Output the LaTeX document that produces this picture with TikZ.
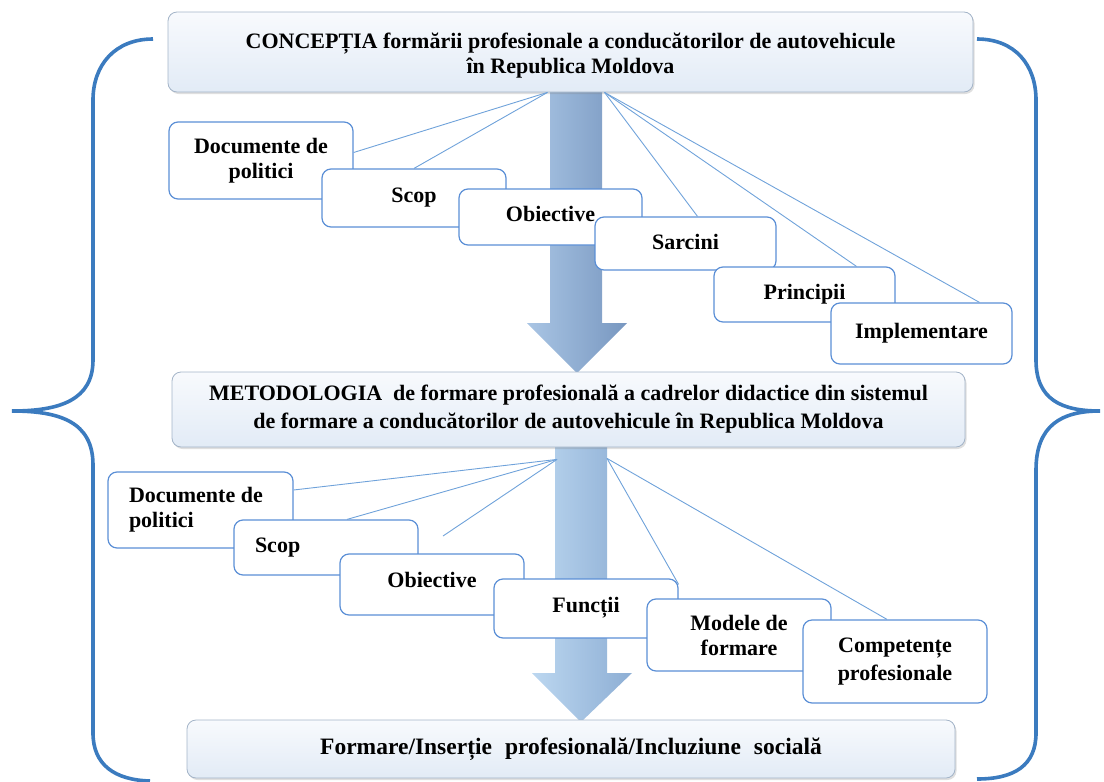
\documentclass[tikz,border=0pt]{standalone}
\usepackage{fontspec}
\setmainfont{Liberation Serif}
\usetikzlibrary{shadows,calc}
\definecolor{bracec}{HTML}{3B7BBF}
\definecolor{boxline}{HTML}{5B8FD6}
\definecolor{connc}{HTML}{6FA2DA}
\definecolor{hdrline}{HTML}{A3B4C8}
\definecolor{hdrtop}{HTML}{F8FAFD}
\definecolor{hdrbot}{HTML}{E2EBF6}
\definecolor{arAl}{HTML}{A9C5E4}
\definecolor{arAm}{HTML}{93B4DA}
\definecolor{arAr}{HTML}{7897C0}
\definecolor{arBl}{HTML}{BCD7F0}
\definecolor{arBm}{HTML}{A5C6E9}
\definecolor{arBr}{HTML}{8DAED4}
\begin{document}
\begin{tikzpicture}[x=1pt,y=-1pt,
  font=\fontsize{22}{25}\selectfont\bfseries,
  hdr/.style={rounded corners=9pt, draw=hdrline, line width=0.8pt,
    top color=hdrtop, bottom color=hdrbot,
    drop shadow={opacity=0.25,shadow xshift=1.5pt,shadow yshift=-2pt},
    inner sep=0pt, align=center},
  sbox/.style={rounded corners=9pt, draw=boxline, line width=1.2pt, fill=white,
    inner sep=0pt, align=center},
  connline/.style={draw=connc, line width=0.9pt},
  bracepath/.style={draw=bracec, line width=3.6pt},
]
\useasboundingbox (0,0) rectangle (1104,782);

% braces
\draw[bracepath] (153,39) .. controls (115,39) and (93,65) .. (93,100)
  -- (93,360) .. controls (93,400) and (60,411) .. (12,411)
  .. controls (60,411) and (93,422) .. (93,465)
  -- (93,733) .. controls (93,765) and (115,780) .. (150,781);
\draw[bracepath] (977,39) .. controls (1015,39) and (1036,65) .. (1036,100)
  -- (1036,360) .. controls (1036,400) and (1062,411) .. (1100,411)
  .. controls (1062,411) and (1036,425) .. (1036,470)
  -- (1036,733) .. controls (1036,765) and (1015,779) .. (977,779);

% big arrows
\shade[left color=arAl, middle color=arAm, right color=arAr]
  (550,90) -- (602,90) -- (602,323) -- (627,323) -- (577,373) -- (527,323) -- (550,323) -- cycle;
\shade[left color=arBl, middle color=arBm, right color=arBr]
  (555,447) -- (607,447) -- (607,673) -- (632,673) -- (581,722) -- (532,673) -- (555,673) -- cycle;

% header boxes
\node[hdr, minimum width=805pt, minimum height=80pt] (concept) at (570.5,52)
  {\rule{0pt}{22pt}CONCEPȚIA formării profesionale a conducătorilor de autovehicule\\în Republica Moldova};
\node[hdr, minimum width=793pt, minimum height=75pt, font=\fontsize{22}{28}\selectfont\bfseries] (meth) at (568.5,409.5)
  {METODOLOGIA\ \ de formare profesională a cadrelor didactice din sistemul\\de formare a conducătorilor de autovehicule în Republica Moldova};
\node[hdr, minimum width=768pt, minimum height=58pt, font=\fontsize{23.5}{26}\selectfont\bfseries] (final) at (571,749)
  {Formare/Inserție\hspace{13pt}profesională/Incluziune\hspace{13pt}socială};

% connection points
\coordinate (u1) at ([xshift=-23pt]concept.south);
\coordinate (u2) at ([xshift=34pt]concept.south);
\coordinate (l1) at ([xshift=-11.5pt,yshift=-12pt]meth.south);
\coordinate (l2) at ([xshift=38.5pt,yshift=-11pt]meth.south);
\coordinate (l1e) at (443,536);

% upper small boxes
\node[sbox, minimum width=184pt, minimum height=77pt] (d1) at (261,160.5) {Documente de\\politici};
\node[sbox, minimum width=184pt, minimum height=58pt] (s1) at (414,198) {\raisebox{5pt}{Scop}};
\node[sbox, minimum width=183pt, minimum height=56pt] (o1) at (550.5,217) {\raisebox{6pt}{Obiective}};
\node[sbox, minimum width=181pt, minimum height=53pt] (sa1) at (685.5,243.5) {\raisebox{3pt}{Sarcini}};
\node[sbox, minimum width=181pt, minimum height=55pt] (p1) at (804.5,294.5) {\raisebox{6pt}{Principii}};
\node[sbox, minimum width=181pt, minimum height=61pt] (i1) at (921.5,333.5) {\raisebox{6pt}{Implementare}};

\draw[connline] (u1) -- ([yshift=8pt]d1.east);
\draw[connline] (u1) -- (s1.north);
\draw[connline] (u2) -- ([xshift=12pt]sa1.north);
\draw[connline] (u2) -- ([xshift=52pt]p1.north);
\draw[connline] (u2) -- ([xshift=58pt]i1.north);

% lower small boxes
\node[sbox, minimum width=185pt, minimum height=76pt, align=flush left, text width=143pt] (d2) at (200.5,510) {Documente de\\politici};
\node[sbox, minimum width=184pt, minimum height=55pt, align=flush left, text width=142pt] (s2) at (326,547.5) {\raisebox{4pt}{Scop}};
\node[sbox, minimum width=184pt, minimum height=61pt] (o2) at (432,584.5) {\raisebox{9pt}{Obiective}};
\node[sbox, minimum width=184pt, minimum height=59pt] (f2) at (586,608.5) {\raisebox{8pt}{Funcții}};
\node[sbox, minimum width=184pt, minimum height=72pt] (m2) at (739,635) {Modele de\\formare};
\node[sbox, minimum width=184pt, minimum height=83pt, font=\fontsize{22}{28}\selectfont\bfseries] (c2) at (895,661.5) {Competențe\\profesionale};

\draw[connline] (l1) -- ([yshift=20pt]d2.east);
\draw[connline] (l1) -- ([xshift=21pt]s2.north);
\draw[connline] (l1) -- (l1e);
\draw[connline] (l2) -- ([yshift=-6pt]f2.north east);
\draw[connline] (l2) -- ([xshift=-8pt]c2.north);
\end{tikzpicture}
\end{document}
